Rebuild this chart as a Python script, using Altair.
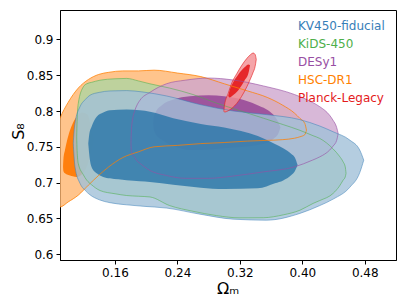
import altair as alt
import pandas as pd

# ---------------- data ----------------
# HSC-DR1 outer (2 sigma) contour
HSC2_X = [0.075, 0.0896, 0.100, 0.113, 0.126, 0.139, 0.152, 0.17, 0.19, 0.21, 0.24, 0.27, 0.30, 0.33, 0.355, 0.375, 0.39, 0.397, 0.4032, 0.4053]
HSC2_HI = [0.74, 0.790, 0.812, 0.832, 0.844, 0.851, 0.854, 0.856, 0.856, 0.857, 0.853, 0.848, 0.838, 0.828, 0.819, 0.808, 0.797, 0.7896, 0.7826, 0.7733]
HSC2_LO = [0.68, 0.666, 0.673, 0.6825, 0.6965, 0.710, 0.722, 0.735, 0.743, 0.750, 0.752, 0.7545, 0.756, 0.758, 0.759, 0.760, 0.762, 0.764, 0.767, 0.7733]
# HSC-DR1 inner (1 sigma)
HSC1_X = [0.0935, 0.094, 0.096, 0.0985, 0.1024, 0.106, 0.111, 0.118, 0.125, 0.130, 0.133]
HSC1_HI = [0.722, 0.733, 0.7454, 0.758, 0.773, 0.783, 0.792, 0.798, 0.795, 0.775, 0.760]
HSC1_LO = [0.722, 0.716, 0.713, 0.7115, 0.710, 0.709, 0.708, 0.712, 0.725, 0.745, 0.760]
# KiDS-450 outer
KIDS2_X = [0.111, 0.1115, 0.113, 0.1195, 0.1238, 0.13, 0.1408, 0.16, 0.175, 0.19, 0.2048, 0.23, 0.26, 0.29, 0.32, 0.35, 0.3755, 0.397, 0.4138, 0.4224, 0.4395, 0.4475, 0.4523, 0.455, 0.456]
KIDS2_HI = [0.764, 0.785, 0.8106, 0.8338, 0.838, 0.840, 0.843, 0.845, 0.8455, 0.842, 0.838, 0.832, 0.823, 0.811, 0.8005, 0.790, 0.781, 0.773, 0.7655, 0.7617, 0.747, 0.737, 0.729, 0.722, 0.713]
KIDS2_LO = [0.764, 0.745, 0.7268, 0.711, 0.7035, 0.697, 0.689, 0.6845, 0.682, 0.681, 0.680, 0.668, 0.660, 0.654, 0.6508, 0.651, 0.655, 0.6615, 0.671, 0.675, 0.685, 0.695, 0.7035, 0.708, 0.713]
# DESy1 outer
DES2_X = [0.1805, 0.1813, 0.1856, 0.1877, 0.192, 0.2048, 0.226, 0.25, 0.28, 0.31, 0.35, 0.39, 0.413, 0.4224, 0.435, 0.4394, 0.444, 0.4459]
DES2_HI = [0.7547, 0.7779, 0.8012, 0.807, 0.815, 0.826, 0.838, 0.843, 0.846, 0.8435, 0.835, 0.823, 0.812, 0.806, 0.794, 0.787, 0.777, 0.7687]
DES2_LO = [0.7547, 0.742, 0.735, 0.731, 0.727, 0.717, 0.710, 0.706, 0.706, 0.709, 0.715, 0.722, 0.7314, 0.736, 0.7454, 0.751, 0.759, 0.7687]
# DESy1 inner
DES1_X = [0.209, 0.2095, 0.212, 0.22, 0.235, 0.256, 0.28, 0.30, 0.326, 0.345, 0.356, 0.365, 0.369, 0.372]
DES1_HI = [0.783, 0.790, 0.798, 0.808, 0.816, 0.8205, 0.822, 0.8205, 0.815, 0.807, 0.801, 0.792, 0.785, 0.777]
DES1_LO = [0.783, 0.776, 0.768, 0.760, 0.751, 0.7454, 0.746, 0.748, 0.750, 0.753, 0.756, 0.763, 0.768, 0.777]
# KV450-fiducial outer
KV2_X = [0.1066, 0.1075, 0.1088, 0.1152, 0.122, 0.128, 0.14, 0.1536, 0.175, 0.196, 0.2261, 0.2688, 0.3115, 0.3541, 0.3968, 0.4224, 0.4395, 0.4608, 0.4736, 0.4787]
KV2_HI = [0.755, 0.770, 0.783, 0.806, 0.816, 0.822, 0.826, 0.828, 0.8285, 0.8265, 0.821, 0.809, 0.800, 0.795, 0.788, 0.779, 0.771, 0.7594, 0.7454, 0.7314]
KV2_LO = [0.755, 0.738, 0.722, 0.699, 0.689, 0.683, 0.676, 0.672, 0.669, 0.667, 0.6645, 0.656, 0.649, 0.6476, 0.657, 0.668, 0.677, 0.6935, 0.714, 0.7314]
# KV450-fiducial inner
KV1_X = [0.1258, 0.127, 0.13, 0.1366, 0.145, 0.1536, 0.175, 0.192, 0.2048, 0.2346, 0.27, 0.30, 0.343, 0.365, 0.3755, 0.386, 0.3904, 0.394]
KV1_HI = [0.7547, 0.767, 0.778, 0.792, 0.798, 0.801, 0.802, 0.801, 0.799, 0.790, 0.782, 0.777, 0.765, 0.754, 0.748, 0.740, 0.735, 0.7245]
KV1_LO = [0.7547, 0.740, 0.722, 0.713, 0.708, 0.706, 0.7035, 0.702, 0.701, 0.697, 0.693, 0.691, 0.692, 0.699, 0.703, 0.7105, 0.716, 0.7245]
# Planck-Legacy outer / inner
PL2_X = [0.2995, 0.3003, 0.305, 0.31, 0.316, 0.322, 0.329, 0.334, 0.337, 0.3395, 0.341]
PL2_HI = [0.800, 0.808, 0.8245, 0.840, 0.852, 0.863, 0.8735, 0.879, 0.881, 0.879, 0.872]
PL2_LO = [0.800, 0.7985, 0.8003, 0.804, 0.8106, 0.820, 0.834, 0.846, 0.854, 0.862, 0.872]
PL1_X = [0.305, 0.307, 0.31, 0.318, 0.326, 0.331, 0.333]
PL1_HI = [0.821, 0.829, 0.837, 0.851, 0.861, 0.865, 0.864]
PL1_LO = [0.821, 0.819, 0.821, 0.829, 0.8425, 0.853, 0.864]

LEGEND_LABELS = ["KV450-fiducial", "KiDS-450", "DESy1", "HSC-DR1", "Planck-Legacy"]
LEGEND_COLORS = ["#377eb8", "#4daf4a", "#984ea3", "#ff7f00", "#e41a1c"]

X_TICKS = [0.16, 0.24, 0.32, 0.40, 0.48]
Y_TICKS = [0.6, 0.65, 0.7, 0.75, 0.8, 0.85, 0.9]

# ---------------- chart ----------------
FONT = "DejaVu Sans"

xs = alt.Scale(domain=[0.0896, 0.52], nice=False, zero=False)
ys = alt.Scale(domain=[0.592, 0.941], nice=False, zero=False)

x_axis = alt.Axis(values=X_TICKS, format=".2f", title="Ωₘ", titleX=167.5, titleY=33,
                  titleAlign="center", titleBaseline="alphabetic", titleFontSize=16)
y_axis = alt.Axis(values=Y_TICKS, format=".2~f", title="S₈", titleX=-37, titleY=121,
                  titleAngle=-90, titleAlign="center", titleBaseline="alphabetic", titleFontSize=16)


def frame(xv, lo, hi):
    return pd.DataFrame({"x": xv, "lo": lo, "hi": hi})


def fill(xv, lo, hi, color, opacity):
    return alt.Chart(frame(xv, lo, hi)).mark_area(
        color=color, opacity=opacity, interpolate="monotone", clip=True
    ).encode(
        x=alt.X("x:Q", scale=xs, axis=x_axis),
        y=alt.Y("lo:Q", scale=ys, axis=y_axis),
        y2="hi:Q",
    )


def outline(xv, lo, hi, color, opacity, width=1.0):
    return alt.Chart(frame(xv, lo, hi)).mark_area(
        color=color, fillOpacity=0, stroke=color, strokeOpacity=opacity,
        strokeWidth=width, interpolate="monotone", clip=True
    ).encode(
        x=alt.X("x:Q", scale=xs, axis=x_axis),
        y=alt.Y("lo:Q", scale=ys, axis=y_axis),
        y2="hi:Q",
    )


layers = [
    fill(HSC2_X, HSC2_LO, HSC2_HI, "#ffb56f", 0.8),
    fill(HSC1_X, HSC1_LO, HSC1_HI, "#ff7f0e", 1.0),
    fill(KIDS2_X, KIDS2_LO, KIDS2_HI, "#aed6a1", 0.8),
    fill(DES2_X, DES2_LO, DES2_HI, "#cea6ce", 0.8),
    fill(DES1_X, DES1_LO, DES1_HI, "#913f94", 0.8),
    fill(KV2_X, KV2_LO, KV2_HI, "#a1c1d8", 0.8),
    fill(KV1_X, KV1_LO, KV1_HI, "#2874a8", 0.8),
    fill(PL2_X, PL2_LO, PL2_HI, "#f38d92", 0.8),
    fill(PL1_X, PL1_LO, PL1_HI, "#e41a1c", 0.9),
    outline(HSC2_X, HSC2_LO, HSC2_HI, "#ff7f00", 0.75),
    outline(KIDS2_X, KIDS2_LO, KIDS2_HI, "#4daf4a", 0.55),
    outline(DES2_X, DES2_LO, DES2_HI, "#984ea3", 0.6),
    outline(KV2_X, KV2_LO, KV2_HI, "#377eb8", 0.5),
    outline(PL2_X, PL2_LO, PL2_HI, "#e41a1c", 0.6),
]

for i, (lab, col) in enumerate(zip(LEGEND_LABELS, LEGEND_COLORS)):
    layers.append(
        alt.Chart(pd.DataFrame({"t": [lab]})).mark_text(
            align="left", baseline="middle", font=FONT, fontSize=12, color=col
        ).encode(x=alt.value(238), y=alt.value(15.7 + 18 * i), text="t:N")
    )

chart = alt.layer(*layers).properties(
    width=336, height=250,
    autosize=alt.AutoSizeParams(type="none"),
    padding={"left": 52, "top": 2, "right": 3, "bottom": 36},
).configure_view(
    stroke="black", strokeWidth=1
).configure_axis(
    labelFont=FONT, labelFontSize=12, labelColor="black",
    titleFont=FONT, titleFontWeight="normal", titleColor="black",
    tickColor="black", domainColor="black", tickSize=4, labelPadding=3,
    grid=False, domainWidth=1, tickWidth=1,
)

chart.save("out.html", embed_options={"renderer": "svg", "actions": False})
